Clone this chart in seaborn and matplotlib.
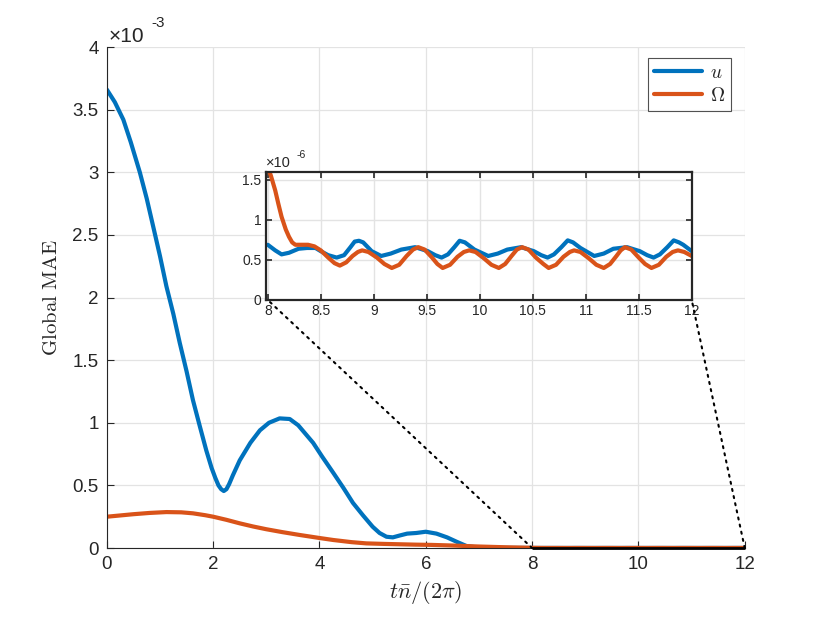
import numpy as np
import pandas as pd
import matplotlib
matplotlib.use("Agg")
import matplotlib.pyplot as plt
import seaborn as sns
from matplotlib.patches import ConnectionPatch, Rectangle
from matplotlib.ticker import FormatStrFormatter

# ---------------- data (main: units of 1e-3, zoom: units of 1e-6) ----------------
t_u_main = [0, 0.15, 0.31, 0.45, 0.62, 0.75, 0.87, 1.0, 1.12, 1.25, 1.37, 1.5, 1.62, 1.75,
            1.87, 1.97, 2.04, 2.1, 2.15, 2.2, 2.25, 2.3, 2.37, 2.5, 2.7, 2.88, 3.05, 3.25,
            3.44, 3.6, 3.88, 4.05, 4.26, 4.45, 4.63, 4.82, 5.0, 5.13, 5.26, 5.38, 5.51, 5.65,
            5.82, 6.0, 6.2, 6.4, 6.58, 6.77, 7.0, 7.3, 7.6]
u_main = [3.66, 3.56, 3.42, 3.24, 3.0, 2.79, 2.57, 2.33, 2.09, 1.87, 1.64, 1.41, 1.18, 0.97,
          0.78, 0.64, 0.56, 0.50, 0.47, 0.455, 0.47, 0.51, 0.58, 0.70, 0.84, 0.94, 1.00, 1.035,
          1.03, 0.98, 0.84, 0.73, 0.60, 0.48, 0.36, 0.26, 0.17, 0.12, 0.09, 0.085, 0.10, 0.115,
          0.12, 0.13, 0.115, 0.085, 0.05, 0.015, 0.003, 0.002, 0.001]

t_o_main = [0, 0.25, 0.5, 0.8, 1.12, 1.4, 1.62, 1.85, 2.0, 2.25, 2.5, 2.75, 3.0, 3.3, 3.63,
            4.0, 4.26, 4.6, 4.88, 5.2, 5.5, 5.8, 6.1, 6.5, 7.0, 7.5]
omega_main = [0.25, 0.26, 0.27, 0.28, 0.287, 0.285, 0.277, 0.262, 0.25, 0.225, 0.197, 0.172,
              0.15, 0.127, 0.104, 0.08, 0.064, 0.047, 0.037, 0.033, 0.03, 0.027, 0.025, 0.02,
              0.012, 0.006]

t_u_zoom = [8.0, 8.07, 8.13, 8.2, 8.29, 8.37, 8.45, 8.5, 8.57, 8.65, 8.72, 8.78, 8.82, 8.86,
            8.9, 8.98, 9.07, 9.16, 9.26, 9.39, 9.51, 9.58, 9.64, 9.7, 9.76, 9.81, 9.86, 9.95,
            10.08, 10.17, 10.26, 10.39, 10.51, 10.58, 10.64, 10.7, 10.77, 10.83, 10.88, 10.95,
            11.08, 11.17, 11.26, 11.39, 11.51, 11.58, 11.64, 11.7, 11.77, 11.83, 11.88, 11.92, 12.0]
u_zoom = [0.69, 0.62, 0.57, 0.59, 0.64, 0.65, 0.65, 0.61, 0.56, 0.53, 0.56, 0.66, 0.73, 0.74,
          0.72, 0.61, 0.55, 0.58, 0.63, 0.66, 0.61, 0.56, 0.53, 0.57, 0.66, 0.74, 0.72, 0.63,
          0.55, 0.58, 0.63, 0.66, 0.61, 0.56, 0.53, 0.57, 0.66, 0.745, 0.72, 0.65,
          0.55, 0.58, 0.64, 0.66, 0.61, 0.56, 0.53, 0.57, 0.66, 0.745, 0.72, 0.69, 0.61]

t_o_zoom = [8.0, 8.03, 8.07, 8.1, 8.13, 8.17, 8.2, 8.23, 8.26, 8.32, 8.38, 8.44, 8.5, 8.57,
            8.63, 8.68, 8.74, 8.8, 8.85, 8.89, 8.95, 9.03, 9.1, 9.17, 9.24, 9.31, 9.37, 9.42,
            9.48, 9.55, 9.6, 9.65, 9.72, 9.79, 9.85, 9.9, 9.96, 10.04, 10.11, 10.18, 10.24,
            10.3, 10.35, 10.4, 10.46, 10.53, 10.6, 10.65, 10.72, 10.79, 10.85, 10.89, 10.95,
            11.03, 11.1, 11.17, 11.23, 11.29, 11.33, 11.37, 11.43, 11.5, 11.56, 11.62, 11.69,
            11.76, 11.82, 11.87, 11.93, 12.0]
omega_zoom = [1.66, 1.55, 1.37, 1.2, 1.04, 0.88, 0.79, 0.72, 0.69, 0.69, 0.69, 0.67, 0.62, 0.53,
              0.46, 0.43, 0.47, 0.55, 0.60, 0.62, 0.60, 0.53, 0.45, 0.40, 0.44, 0.55, 0.63, 0.66,
              0.63, 0.53, 0.45, 0.40, 0.44, 0.54, 0.60, 0.62, 0.60, 0.52, 0.44, 0.40, 0.45,
              0.55, 0.63, 0.66, 0.63, 0.53, 0.45, 0.40, 0.44, 0.54, 0.60, 0.62, 0.60,
              0.52, 0.44, 0.40, 0.45, 0.55, 0.62, 0.66, 0.63, 0.53, 0.45, 0.40, 0.44,
              0.54, 0.60, 0.62, 0.60, 0.55]

x_ticks_main = [0, 2, 4, 6, 8, 10, 12]
y_ticks_main = [0, 0.5, 1, 1.5, 2, 2.5, 3, 3.5, 4]
x_ticks_zoom = [8, 8.5, 9, 9.5, 10, 10.5, 11, 11.5, 12]
y_ticks_zoom = [0, 0.5, 1, 1.5]

BLUE = "#0072BD"
ORANGE = "#D95319"
GRID = "#e3e3e3"
AX = "#262626"

# combined series for main axes (main units = 1e-3)
df_u = pd.DataFrame({"t": t_u_main + t_u_zoom,
                     "v": u_main + [v * 1e-3 for v in u_zoom]})
df_o = pd.DataFrame({"t": t_o_main + t_o_zoom,
                     "v": omega_main + [v * 1e-3 for v in omega_zoom]})
dz_u = pd.DataFrame({"t": t_u_zoom, "v": u_zoom})
dz_o = pd.DataFrame({"t": t_o_zoom, "v": omega_zoom})

sns.set_theme(style="white")
plt.rcParams["font.family"] = ["Liberation Sans", "DejaVu Sans"]
plt.rcParams["mathtext.fontset"] = "cm"
plt.rcParams["axes.unicode_minus"] = False

fig = plt.figure(figsize=(8.22, 6.17), dpi=100)
ax = fig.add_axes([0.130, 0.1118, 0.776, 0.812])

sns.lineplot(data=df_u, x="t", y="v", ax=ax, color=BLUE, lw=3.0, label=r"$u$",
             sort=False, estimator=None)
sns.lineplot(data=df_o, x="t", y="v", ax=ax, color=ORANGE, lw=3.0, label=r"$\Omega$",
             sort=False, estimator=None)

ax.set_xlim(0, 12)
ax.set_ylim(0, 4)
ax.set_xticks(x_ticks_main)
ax.set_yticks(y_ticks_main)
ax.xaxis.set_major_formatter(FormatStrFormatter("%g"))
ax.yaxis.set_major_formatter(FormatStrFormatter("%g"))
ax.grid(True, color=GRID, lw=0.9)
ax.set_axisbelow(True)
for s in ["top", "right"]:
    ax.spines[s].set_visible(False)
for s in ["left", "bottom"]:
    ax.spines[s].set_color(AX)
    ax.spines[s].set_linewidth(0.8)
ax.tick_params(direction="in", length=5, width=0.8, color=AX, labelsize=13.5,
               labelcolor=AX, left=True, bottom=True, pad=6)
ax.set_xlabel(r"$t\bar{n}/(2\pi)$", fontsize=16, labelpad=4, color=AX)
ax.set_ylabel(r"$\mathrm{Global\ MAE}$", fontsize=15, labelpad=8, color=AX)
ax.text(0.002, 1.010, "×10", transform=ax.transAxes, fontsize=15, color=AX,
        ha="left", va="baseline")
ax.text(0.0705, 1.034, "-3", transform=ax.transAxes, fontsize=11, color=AX,
        ha="left", va="bottom")

leg = ax.legend(loc="upper right", bbox_to_anchor=(0.985, 0.985), fontsize=14,
                frameon=True, fancybox=False, handlelength=2.5, borderpad=0.3,
                labelspacing=0.25, handletextpad=0.4, borderaxespad=0.2)
leg.get_frame().set_edgecolor(AX)
leg.get_frame().set_linewidth(0.8)

# zoom rectangle on main axes
ax.add_patch(Rectangle((8, 0), 4, 1.6e-3, fill=False, ec="black", lw=2.0,
                       zorder=5, clip_on=False))

# ---------------- inset ----------------
axins = fig.add_axes([0.3232, 0.5138, 0.5183, 0.2075])
sns.lineplot(data=dz_u, x="t", y="v", ax=axins, color=BLUE, lw=3.0, sort=False,
             estimator=None)
sns.lineplot(data=dz_o, x="t", y="v", ax=axins, color=ORANGE, lw=3.0, sort=False,
             estimator=None)
axins.set_xlim(7.98, 12)
axins.set_ylim(0, 1.6)
axins.set_xticks(x_ticks_zoom)
axins.set_yticks(y_ticks_zoom)
axins.xaxis.set_major_formatter(FormatStrFormatter("%g"))
axins.yaxis.set_major_formatter(FormatStrFormatter("%g"))
axins.set_xlabel("")
axins.set_ylabel("")
axins.grid(True, color=GRID, lw=1.0)
axins.set_axisbelow(True)
for s in axins.spines.values():
    s.set_color(AX)
    s.set_linewidth(1.6)
axins.tick_params(direction="in", length=4, width=1.2, color=AX, labelsize=10,
                  labelcolor=AX, top=True, right=True, left=True, bottom=True, pad=3)
axins.text(0.0, 1.04, "×10", transform=axins.transAxes, fontsize=10.5, color=AX,
           ha="left", va="baseline")
axins.text(0.073, 1.09, "-6", transform=axins.transAxes, fontsize=7.5, color=AX,
           ha="left", va="bottom")

for xv in (8, 12):
    con = ConnectionPatch(xyA=(xv, 0), coordsA=ax.transData,
                          xyB=(xv, 0), coordsB=axins.transData,
                          linestyle=(0, (1, 2.5)), color="black", lw=1.5, zorder=6)
    fig.add_artist(con)

fig.savefig("out.png", dpi=100)
